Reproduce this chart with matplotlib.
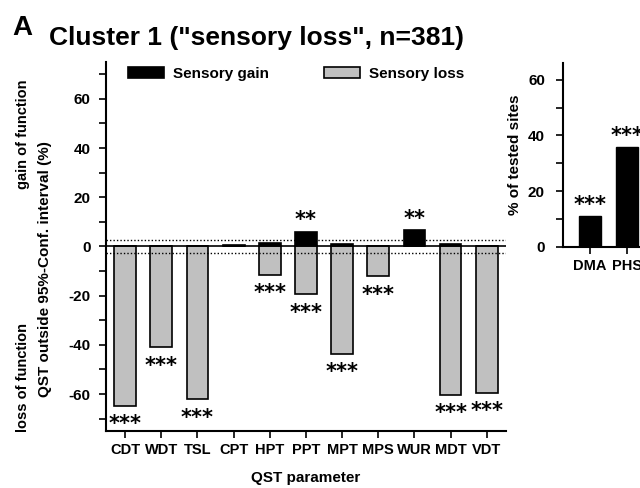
import numpy as np
import matplotlib.pyplot as plt
from matplotlib.ticker import MultipleLocator

plt.rcParams['font.family'] = ['Liberation Sans', 'DejaVu Sans']
plt.rcParams['font.weight'] = 'bold'
plt.rcParams['axes.unicode_minus'] = False

# QST parameters (Cluster 1)
params = ["CDT", "WDT", "TSL", "CPT", "HPT", "PPT", "MPT", "MPS", "WUR", "MDT", "VDT"]
gain = [0, 0, 0, 0.5, 1.6, 6.0, 1.0, 0, 6.5, 1.0, 0]
loss = [-64.7, -41.0, -62.0, 0, -11.4, -19.5, -43.5, -12.0, 0, -60.3, -59.5]
gain_sig = ["", "", "", "", "", "**", "", "", "**", "", ""]
loss_sig = ["***", "***", "***", "", "***", "***", "***", "***", "", "***", "***"]
conf_band = 2.5

# right panel
sites = ["DMA", "PHS"]
site_pct = [11.2, 36.0]
site_sig = ["***", "***"]

fig = plt.figure(figsize=(6.4, 4.88), dpi=100)

ax = fig.add_axes([0.1656, 0.1168, 0.625, 0.7562])
x = np.arange(len(params))
bg = ax.bar(x, gain, width=0.6, color="black", edgecolor="black", linewidth=1.2)
bl = ax.bar(x, loss, width=0.6, color="#c0c0c0", edgecolor="black", linewidth=1.2)
ax.axhline(0, color="black", lw=1.2)
ax.axhline(conf_band, color="black", lw=1.0, ls=(0, (1, 1.5)))
ax.axhline(-conf_band, color="black", lw=1.0, ls=(0, (1, 1.5)))

for i in range(len(params)):
    if gain_sig[i]:
        ax.text(x[i], gain[i] + 0.8, gain_sig[i], ha="center", va="bottom",
                fontsize=15, family="DejaVu Sans")
    if loss_sig[i]:
        ax.text(x[i], loss[i] - 3.5, loss_sig[i], ha="center", va="top",
                fontsize=15, family="DejaVu Sans")

ax.set_xlim(-0.53, 10.53)
ax.set_ylim(-75, 75)
ax.set_xticks(x)
ax.set_xticklabels(params, fontsize=10.5, fontweight="bold")
ax.yaxis.set_major_locator(MultipleLocator(20))
ax.yaxis.set_minor_locator(MultipleLocator(10))
ax.set_yticks([-60, -40, -20, 0, 20, 40, 60])
ax.tick_params(axis="y", labelsize=11, width=1.2, length=5, pad=6)
ax.tick_params(axis="y", which="minor", width=1.2, length=5)
ax.tick_params(axis="x", width=1.2, length=5)
for s in ["top", "right"]:
    ax.spines[s].set_visible(False)
for s in ["left", "bottom"]:
    ax.spines[s].set_linewidth(1.5)
ax.set_xlabel("QST parameter", fontsize=11, fontweight="bold", labelpad=10)

ax.legend([bg, bl], ["Sensory gain", "Sensory loss"], ncol=2, frameon=False,
          loc="upper left", bbox_to_anchor=(0.02, 1.025), fontsize=11,
          handlelength=2.4, handleheight=0.8, columnspacing=3.6, handletextpad=0.55)

fig.text(0.0703, 0.449, "QST outside 95%-Conf. interval (%)", rotation=90,
         ha="center", va="center", fontsize=11, fontweight="bold")
fig.text(0.036, 0.725, "gain of function", rotation=90, ha="center", va="center",
         fontsize=10.5, fontweight="bold")
fig.text(0.036, 0.227, "loss of function", rotation=90, ha="center", va="center",
         fontsize=10.5, fontweight="bold")

fig.text(0.019, 0.928, "A", fontsize=20, fontweight="bold", ha="left", va="baseline")
fig.text(0.077, 0.908, 'Cluster 1 ("sensory loss", n=381)', fontsize=19,
         fontweight="bold", ha="left", va="baseline")

ax2 = fig.add_axes([0.8797, 0.4939, 0.1734, 0.377])
x2 = np.arange(len(sites))
ax2.bar(x2, site_pct, width=0.62, color="black", edgecolor="black")
for i in range(len(sites)):
    ax2.text(x2[i], site_pct[i] + 0.3, site_sig[i], ha="center", va="bottom",
             fontsize=15, family="DejaVu Sans")
ax2.set_xlim(-0.73, 2.27)
ax2.set_ylim(0, 66)
ax2.set_xticks(x2)
ax2.set_xticklabels(sites, fontsize=10.5, fontweight="bold")
ax2.yaxis.set_major_locator(MultipleLocator(20))
ax2.yaxis.set_minor_locator(MultipleLocator(10))
ax2.tick_params(axis="y", labelsize=11, width=1.2, length=5, pad=8)
ax2.tick_params(axis="y", which="minor", width=1.2, length=5)
ax2.tick_params(axis="x", width=1.2, length=5)
for s in ["top", "right"]:
    ax2.spines[s].set_visible(False)
for s in ["left", "bottom"]:
    ax2.spines[s].set_linewidth(1.5)
ax2.set_ylabel("% of tested sites", fontsize=11, fontweight="bold", labelpad=4)

fig.savefig("out.png", dpi=100)
